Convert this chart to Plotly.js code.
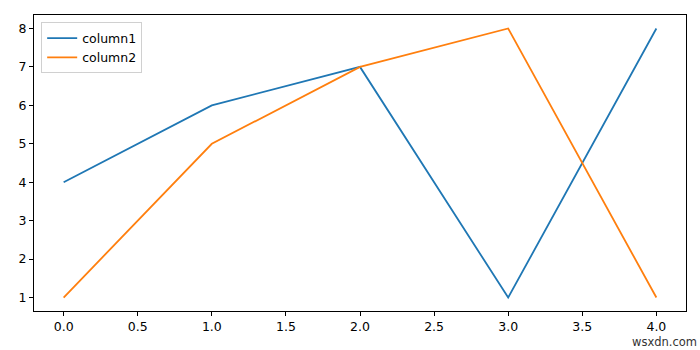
<!DOCTYPE html>
<html>
<head>
<meta charset="utf-8">
<script src="https://cdn.plot.ly/plotly-3.0.1.min.js"></script>
<style>html,body{margin:0;padding:0;background:#fff;}#chart{width:700px;height:350px;}</style>
</head>
<body>
<div id="chart"></div>
<script>
const xValues = [0, 1, 2, 3, 4];
const column1 = [4, 6, 7, 1, 8];
const column2 = [1, 5, 7, 8, 1];
const xTicks = [0, 0.5, 1, 1.5, 2, 2.5, 3, 3.5, 4];
const xTickLabels = ['0.0', '0.5', '1.0', '1.5', '2.0', '2.5', '3.0', '3.5', '4.0'];
const yTicks = [1, 2, 3, 4, 5, 6, 7, 8];

const font = {family: 'DejaVu Sans', size: 12.5, color: '#000'};
const traces = [
  {x: xValues, y: column1, name: 'column1', type: 'scatter', mode: 'lines', line: {color: '#1f77b4', width: 1.8}},
  {x: xValues, y: column2, name: 'column2', type: 'scatter', mode: 'lines', line: {color: '#ff7f0e', width: 1.8}}
];
const axisCommon = {
  showgrid: false, zeroline: false, showline: true, linecolor: '#000', linewidth: 1, mirror: true,
  ticks: 'outside', ticklen: 4, tickwidth: 1, tickcolor: '#000', tickfont: font
};
const layout = {
  width: 700, height: 350,
  margin: {l: 34, r: 14, t: 15, b: 39},
  paper_bgcolor: '#fff', plot_bgcolor: '#fff',
  font: font,
  showlegend: true,
  legend: {x: 0.011, y: 0.975, xanchor: 'left', yanchor: 'top', bgcolor: 'rgba(255,255,255,0.8)',
           bordercolor: '#d0d0d0', borderwidth: 1, font: font, tracegroupgap: 0, itemwidth: 30},
  xaxis: Object.assign({}, axisCommon, {range: [-0.2, 4.2], tickvals: xTicks, ticktext: xTickLabels}),
  yaxis: Object.assign({}, axisCommon, {range: [0.65, 8.35], tickvals: yTicks}),
  annotations: [{text: 'wsxdn.com', xref: 'paper', yref: 'paper', x: 1.02, y: -0.075, xanchor: 'right', yanchor: 'top',
                 showarrow: false, font: {family: 'DejaVu Sans', size: 11.5, color: '#333'}}]
};
Plotly.newPlot('chart', traces, layout, {displayModeBar: false, staticPlot: true});
</script>
</body>
</html>
